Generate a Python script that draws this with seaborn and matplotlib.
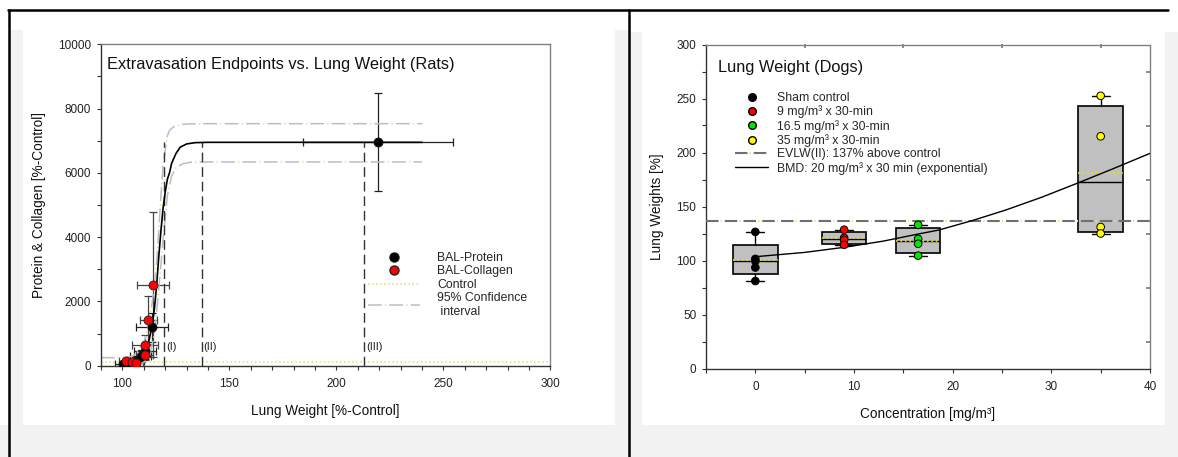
import numpy as np
import pandas as pd
import matplotlib
matplotlib.use("Agg")
import matplotlib.pyplot as plt
import seaborn as sns
from matplotlib.lines import Line2D
from matplotlib.patches import Rectangle
from matplotlib.ticker import MultipleLocator
from matplotlib.legend_handler import HandlerTuple

sns.set_theme(style="white")
plt.rcParams["font.family"] = ["Liberation Sans", "DejaVu Sans"]

# ---------------- Rats (left panel) data ----------------
prot_x = [100.5, 103.0, 106.0, 108.5, 110.5, 114.0, 219.5]
prot_y = [60, 90, 150, 300, 450, 1200, 6960]
prot_xerr = [4, 3, 4, 5, 5, 7.5, 35]
prot_yerr = [50, 60, 100, 200, 250, 450, 1530]

coll_x = [101.5, 104.5, 106.5, 110.5, 110.5, 112.0, 114.3]
coll_y = [150, 130, 90, 330, 640, 1430, 2520]
coll_xerr = [3, 3, 3, 4, 6, 4, 7.5]
coll_yerr = [60, 60, 80, 150, 300, 750, 2260]

fit_x = [100, 104, 107, 109, 111, 112.5, 114, 115, 116, 117, 118, 119, 120, 121, 122,
         123, 125, 127, 130, 134, 140, 240]
fit_y = [0, 0, 80, 220, 480, 800, 1300, 1800, 2500, 3400, 4200, 4900, 5400, 5800, 6000,
         6300, 6600, 6800, 6900, 6940, 6950, 6950]
ci_up_x = [90, 100, 105, 110, 112, 114, 116, 117, 118, 119, 120, 121, 122, 124, 127, 130, 135, 240]
ci_up_y = [250, 250, 300, 700, 1200, 2000, 3200, 4200, 5300, 6200, 6700, 7150, 7320, 7440, 7500,
           7520, 7530, 7530]
ci_lo_x = [105, 110, 113, 115, 117, 119, 121, 123, 125, 128, 132, 140, 240]
ci_lo_y = [0, 100, 400, 1000, 2400, 3900, 5300, 5900, 6150, 6280, 6330, 6340, 6340]
control_level = 100
zone_x = [119.5, 137, 213]
zone_labels = ["(I)", "(II)", "(III)"]
zone_top = 6950

# ---------------- Dogs (right panel) data ----------------
conc_levels = [0, 9, 16.5, 35]
sham = [126.5, 101.5, 99.5, 93.5, 81]
c9 = [128.5, 121, 119, 114.5]
c16 = [133, 120, 115.5, 104.5]
c35 = [252.5, 215, 131, 125]
group_labels = ["Sham control", "9 mg/m³ x 30-min", "16.5 mg/m³ x 30-min", "35 mg/m³ x 30-min"]
group_colors = ["#000000", "#ff0000", "#00e600", "#ffff00"]
evlw_level = 137
bmd_x = [0, 5, 9, 13, 16.5, 18.6, 22, 25.4, 29, 32.7, 36, 40]
bmd_y = [103.5, 107.5, 112.2, 118, 124.5, 128.2, 137, 146.8, 158.5, 171.8, 184, 199.2]

W, H = 1178, 457
fig = plt.figure(figsize=(W / 100, H / 100), dpi=100)
fig.patch.set_facecolor("white")


def fx(px):
    return px / W


def fy(py):
    return 1 - py / H


# background shading / frame
grey = "#f2f2f2"
for (x0, y0, x1, y1) in [(10, 30, 23, 425), (615, 30, 628, 425), (0, 425, W, H),
                         (630, 32, 642, 425), (1165, 32, W, 425)]:
    fig.add_artist(Rectangle((fx(x0), fy(y1)), fx(x1) - fx(x0), fy(y0) - fy(y1),
                             transform=fig.transFigure, facecolor=grey, edgecolor="none", zorder=0))
fig.add_artist(Line2D([fx(8), fx(1168)], [fy(10), fy(10)], transform=fig.transFigure, color="black", lw=1.8))
fig.add_artist(Line2D([fx(9), fx(9)], [fy(10), fy(H)], transform=fig.transFigure, color="black", lw=1.8))
fig.add_artist(Line2D([fx(628.5), fx(628.5)], [fy(10), fy(H)], transform=fig.transFigure, color="black", lw=1.8))

axL = fig.add_axes([fx(101), fy(365.7), fx(550.5) - fx(101), fy(44.3) - fy(365.7)])
axR = fig.add_axes([fx(706), fy(368.5), fx(1150) - fx(706), fy(44.5) - fy(368.5)])


def style_axes(ax):
    ax.set_facecolor("white")
    for s in ["left", "bottom"]:
        ax.spines[s].set_color("#333333")
        ax.spines[s].set_linewidth(1.0)
    for s in ["top", "right"]:
        ax.spines[s].set_color("#808080")
        ax.spines[s].set_linewidth(1.0)
        ax.spines[s].set_visible(True)
    ax.tick_params(which="both", direction="out", length=3, width=0.8, color="#333333",
                   labelsize=8.5, labelcolor="#222222", left=True, bottom=True)
    ax.tick_params(axis="y", pad=4)
    ax.tick_params(axis="x", pad=6)


CI_GREY = "#bdbdbd"
CI_YEL = "#e4e47a"
CI_DASH = (0, (9, 5))
CI_DOT = (3, (1, 13))

# ---------------- Left panel ----------------
ax = axL
style_axes(ax)
ax.errorbar(prot_x, prot_y, xerr=prot_xerr, yerr=prot_yerr, fmt="none", ecolor="#222222",
            elinewidth=0.9, capsize=3, capthick=0.9, zorder=2)
ax.errorbar(coll_x, coll_y, xerr=coll_xerr, yerr=coll_yerr, fmt="none", ecolor="#444444",
            elinewidth=0.9, capsize=3, capthick=0.9, zorder=2)
ax.axhline(control_level, color="#dede70", ls=":", lw=1.1, zorder=1)
for cx, cy in [(ci_up_x, ci_up_y), (ci_lo_x, ci_lo_y)]:
    sns.lineplot(x=cx, y=cy, ax=ax, color=CI_GREY, lw=1.1, linestyle=CI_DASH,
                 estimator=None, sort=False, zorder=2)
    sns.lineplot(x=cx, y=cy, ax=ax, color=CI_YEL, lw=1.1, linestyle=CI_DOT,
                 estimator=None, sort=False, zorder=2)
sns.lineplot(x=fit_x, y=fit_y, ax=ax, color="black", lw=1.2, estimator=None, sort=False, zorder=3)
for xv, lab in zip(zone_x, zone_labels):
    ax.plot([xv, xv], [0, zone_top], color="#333333", lw=1.0, dashes=(7, 3.5), zorder=2)
    ax.text(xv + 0.8, 590, lab, fontsize=8, color="#222222", ha="left", va="center")
sns.scatterplot(x=prot_x, y=prot_y, ax=ax, color="black", edgecolor="#111111", s=42,
                linewidth=0.6, zorder=4, legend=False)
sns.scatterplot(x=coll_x, y=coll_y, ax=ax, color="#ff0000", edgecolor="#222222", s=42,
                linewidth=0.6, zorder=5, legend=False)
ax.set_xlim(90, 300)
ax.set_ylim(0, 10000)
ax.set_xticks([100, 150, 200, 250, 300])
ax.set_yticks([0, 2000, 4000, 6000, 8000, 10000])
ax.xaxis.set_minor_locator(MultipleLocator(10))
ax.yaxis.set_minor_locator(MultipleLocator(1000))
ax.set_xlabel("Lung Weight [%-Control]", fontsize=9.8, labelpad=10, color="#111111")
ax.set_ylabel("Protein & Collagen [%-Control]", fontsize=9.8, labelpad=9, color="#111111")
ax.text(0.013, 0.938, "Extravasation Endpoints vs. Lung Weight (Rats)", transform=ax.transAxes,
        fontsize=11.8, ha="left", va="center", color="#111111")
ci_handle = (Line2D([], [], color=CI_GREY, lw=1.1, linestyle=CI_DASH),
             Line2D([], [], color=CI_YEL, lw=1.1, linestyle=CI_DOT))
hL = [Line2D([], [], marker="o", ls="none", mfc="black", mec="#111111", ms=6.5),
      Line2D([], [], marker="o", ls="none", mfc="#ff0000", mec="#222222", ms=6.5),
      Line2D([], [], color="#dede70", ls=":", lw=1.1),
      ci_handle]
ax.legend(hL, ["BAL-Protein", "BAL-Collagen", "Control", "95% Confidence\n interval"],
          handler_map={tuple: HandlerTuple(ndivide=1, pad=0)},
          loc="upper left", bbox_to_anchor=(0.593, 0.354), frameon=False, fontsize=8.8,
          handlelength=4.3, handletextpad=1.4, labelspacing=0.12, borderpad=0, borderaxespad=0)

# ---------------- Right panel ----------------
ax = axR
style_axes(ax)
groups = [sham, c9, c16, c35]
stats = []
for pos, vals in zip(conc_levels, groups):
    q1, med, q3 = np.percentile(vals, [25, 50, 75], method="weibull")
    stats.append(dict(med=med, q1=q1, q3=q3, whislo=min(vals), whishi=max(vals),
                      mean=float(np.mean(vals)), fliers=[]))
ax.bxp(stats, positions=conc_levels, widths=4.5, capwidths=1.8, patch_artist=True,
       showmeans=True, meanline=True, manage_ticks=False,
       boxprops=dict(facecolor="#c0c0c0", edgecolor="black", linewidth=1.2),
       medianprops=dict(color="black", linewidth=1.0),
       meanprops=dict(color="#e6e600", linestyle=":", linewidth=1.2),
       whiskerprops=dict(color="black", linewidth=1.0),
       capprops=dict(color="black", linewidth=1.0), zorder=2)
ax.axhline(evlw_level, color="#707070", lw=1.5, linestyle=(0, (6, 3)), zorder=3)
ax.axhline(evlw_level, color="#e4e47a", lw=1.5, linestyle=(2, (0.6, 8.4)), zorder=3)
sns.lineplot(x=bmd_x, y=bmd_y, ax=ax, color="black", lw=1.0, estimator=None, sort=False, zorder=3)
df = pd.DataFrame({
    "conc": np.concatenate([[c] * len(g) for c, g in zip(conc_levels, groups)]),
    "weight": np.concatenate(groups),
    "group": np.concatenate([[lab] * len(g) for lab, g in zip(group_labels, groups)]),
})
sns.scatterplot(data=df, x="conc", y="weight", hue="group", palette=dict(zip(group_labels, group_colors)),
                edgecolor="black", linewidth=0.7, s=30, ax=ax, legend=False, zorder=4)
ax.set_xlim(-5, 40)
ax.set_ylim(0, 300)
ax.set_xticks([0, 10, 20, 30, 40])
ax.set_yticks([0, 50, 100, 150, 200, 250, 300])
ax.xaxis.set_minor_locator(MultipleLocator(5))
ax.yaxis.set_minor_locator(MultipleLocator(25))
ax.set_xlabel("Concentration [mg/m³]", fontsize=9.8, labelpad=10, color="#111111")
ax.set_ylabel("Lung Weights [%]", fontsize=9.8, labelpad=9, color="#111111")
secx = ax.secondary_xaxis("top")
secx.set_xticks([5, 15, 25, 35])
secx.set_xticklabels([])
secx.tick_params(direction="in", length=3, color="#808080")
secx.spines["top"].set_visible(False)
secy = ax.secondary_yaxis("right")
secy.set_yticks([25, 75, 125, 175, 225, 275])
secy.set_yticklabels([])
secy.tick_params(direction="in", length=3, color="#808080")
secy.spines["right"].set_visible(False)
ax.text(0.028, 0.93, "Lung Weight (Dogs)", transform=ax.transAxes, fontsize=11.8,
        ha="left", va="center", color="#111111")
hR = [Line2D([], [], marker="o", ls="none", mfc=c, mec="black", ms=5.5) for c in group_colors]
hR += [(Line2D([], [], color="#707070", lw=1.5, linestyle=(0, (6, 3))),
        Line2D([], [], color="#e4e47a", lw=1.5, linestyle=(2, (0.6, 8.4)))),
       Line2D([], [], color="black", lw=1.0)]
ax.legend(hR, group_labels + ["EVLW(II): 137% above control", "BMD: 20 mg/m³ x 30 min (exponential)"],
          handler_map={tuple: HandlerTuple(ndivide=1, pad=0)},
          loc="upper left", bbox_to_anchor=(0.065, 0.853), frameon=False, fontsize=8.8,
          handlelength=2.73, handletextpad=0.75, labelspacing=0.12, borderpad=0, borderaxespad=0)

fig.savefig("out.png", dpi=100, facecolor=fig.get_facecolor())
